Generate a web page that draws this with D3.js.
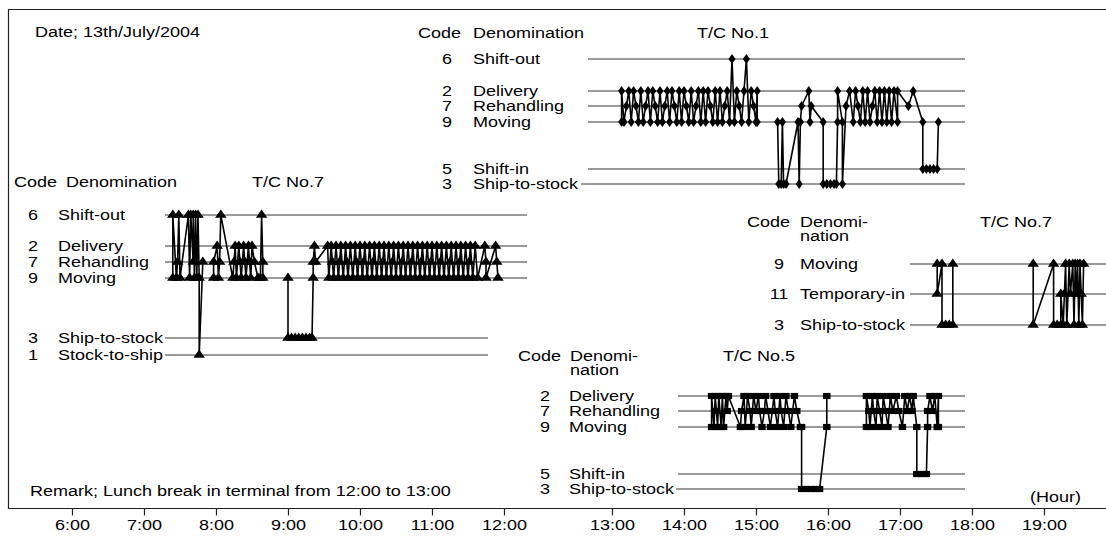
<!DOCTYPE html>
<html><head><meta charset="utf-8">
<script src="https://cdn.jsdelivr.net/npm/d3@7"></script>
<style>
body{margin:0;background:#fff}
svg{display:block}
text{font-family:"Liberation Sans",Arial,Helvetica,sans-serif;font-size:15px;fill:#000}
</style>
</head><body>
<svg id="chart" width="1106" height="542"></svg>
<script>
// ---------------- DATA ----------------
const hourTicks = ["6:00","7:00","8:00","9:00","10:00","11:00","12:00","13:00","14:00","15:00","16:00","17:00","18:00","19:00"];
const dateText = "Date; 13th/July/2004";
const remarkText = "Remark; Lunch break in terminal from 12:00 to 13:00";

// T/C No.1
const tc1Codes = [6, 2, 7, 9, 5, 3];
const tc1Names = ["Shift-out", "Delivery", "Rehandling", "Moving", "Shift-in", "Ship-to-stock"];
const tc1Ops = [
 ["13:08",9],["13:08",2],["13:10",9],["13:12",7],["13:14",2],["13:16",9],["13:18",2],["13:20",7],["13:22",9],["13:24",2],["13:26",9],["13:28",7],["13:30",2],["13:32",9],["13:34",2],["13:36",7],["13:38",9],["13:40",2],["13:42",9],["13:44",7],["13:46",2],["13:48",9],["13:50",2],["13:52",7],["13:54",9],["13:56",2],["13:58",9],["14:00",2],["14:02",7],["14:04",9],["14:06",2],["14:08",9],["14:10",7],["14:12",2],["14:14",9],["14:16",2],["14:18",9],["14:20",2],["14:22",7],["14:24",9],["14:26",2],["14:28",9],["14:30",2],["14:32",9],["14:34",7],["14:36",2],["14:38",9],["14:40",6],["14:42",9],["14:44",2],["14:46",7],["14:48",9],["14:50",2],["14:52",6],["14:54",9],["14:56",2],["14:58",7],["15:00",9],["15:01",2],["15:01",9],
 null,
 ["15:18",9],["15:19",3],["15:21",3],["15:22",9],["15:23",3],["15:25",3],["15:35",9],["15:36",3],["15:37",9],["15:38",7],["15:44",2],["15:45",9],["15:46",7],["15:56",9],["15:56",3],["15:59",3],["16:02",3],["16:05",3],["16:07",3],["16:08",9],["16:08",2],["16:12",9],["16:12",3],["16:15",7],["16:18",2],["16:21",9],["16:23",2],["16:25",7],["16:27",9],["16:29",2],["16:31",9],["16:33",2],["16:35",9],["16:37",7],["16:39",2],["16:41",9],["16:43",2],["16:45",9],["16:47",2],["16:49",9],["16:51",2],["16:53",9],["16:55",2],["16:58",9],["16:58",2],["17:07",7],["17:11",2],["17:19",9],["17:19",5],["17:22",5],["17:25",5],["17:28",5],["17:31",5],["17:32",9]
];

// T/C No.7 (morning)
const tc7aCodes = [6, 2, 7, 9, 3, 1];
const tc7aNames = ["Shift-out", "Delivery", "Rehandling", "Moving", "Ship-to-stock", "Stock-to-ship"];
const tc7aOps = [
 ["7:24",9],["7:24",6],["7:27",9],["7:28",7],["7:29",6],["7:30",9],["7:37",6],["7:38",9],["7:39",6],["7:41",7],["7:41",6],["7:42",9],["7:43",6],["7:44",9],["7:45",6],["7:46",9],["7:46",1],["7:49",7],
 null,
 ["7:58",9],["7:58",7],["8:01",2],["8:02",9],["8:03",7],["8:04",6],["8:14",9],["8:15",7],["8:16",2],["8:17",9],["8:19",2],["8:20",7],["8:21",9],["8:23",2],["8:24",7],["8:25",9],["8:27",2],["8:28",7],["8:29",9],["8:30",2],["8:32",7],["8:35",9],["8:37",9],["8:38",6],["8:39",7],["8:39",9],
 null,
 ["9:00",9],["9:00",3],["9:03",3],["9:06",3],["9:09",3],["9:12",3],["9:15",3],["9:18",3],["9:20",3],["9:21",9],["9:21",7],["9:22",2],["9:23",7],["9:33",2],
 ["9:34",9],["9:36",2],["9:37",7],["9:38",9],["9:40",2],["9:42",9],["9:43",7],["9:44",2],["9:46",9],["9:48",2],["9:49",7],["9:50",9],["9:52",2],["9:54",9],["9:56",2],["9:57",7],["9:58",9],["10:00",2],["10:02",9],["10:03",7],["10:04",2],["10:06",9],["10:08",2],["10:10",9],["10:11",7],["10:12",2],["10:14",9],["10:16",2],["10:18",9],["10:19",7],["10:20",2],["10:22",9],["10:24",2],["10:26",9],["10:27",7],["10:28",2],["10:30",9],["10:32",2],["10:34",9],["10:35",7],["10:36",2],["10:38",9],["10:40",2],["10:42",9],["10:43",7],["10:44",2],["10:46",9],["10:48",2],["10:50",9],["10:51",7],["10:52",2],["10:54",9],["10:56",2],["10:58",9],["10:59",7],["11:00",2],["11:02",9],["11:04",2],["11:06",9],["11:07",7],["11:08",2],["11:10",9],["11:12",2],["11:14",9],["11:15",7],["11:16",2],["11:18",9],["11:20",2],["11:22",9],["11:23",7],["11:24",2],["11:26",9],["11:28",2],["11:30",9],["11:31",7],["11:32",2],["11:34",9],["11:36",2],["11:38",9],["11:44",2],["11:45",7],["11:45",9],["11:53",2],["11:54",7],["11:55",9]
];

// T/C No.7 (evening)
const tc7bCodes = [9, 11, 3];
const tc7bNames = ["Moving", "Temporary-in", "Ship-to-stock"];
const tc7bOps = [
 ["17:31",9],["17:31",11],["17:35",9],["17:35",3],["17:38",3],["17:41",3],["17:44",3],["17:44",9],
 null,
 ["18:51",9],["18:51",3],["19:08",9],["19:08",3],["19:11",3],["19:14",3],["19:14",11],["19:16",3],["19:17",11],["19:18",9],["19:19",3],["19:21",9],["19:22",11],["19:24",9],["19:25",3],["19:26",9],["19:27",11],["19:28",9],["19:29",3],["19:30",9],["19:31",11],["19:32",3],["19:33",9]
];

// T/C No.5
const tc5Codes = [2, 7, 9, 5, 3];
const tc5Names = ["Delivery", "Rehandling", "Moving", "Shift-in", "Ship-to-stock"];
const tc5Ops = [
 ["14:23",9],["14:23",2],["14:25",9],["14:26",2],["14:27",7],["14:28",9],["14:29",2],["14:31",9],["14:32",2],["14:33",9],["14:35",2],["14:36",7],["14:37",2],["14:47",9],["14:48",7],["14:50",2],["14:51",9],["14:53",2],["14:55",7],["14:56",9],["14:58",2],["15:00",7],["15:02",2],["15:03",7],["15:05",9],["15:07",7],["15:08",2],["15:10",7],["15:12",9],["15:15",2],["15:16",7],["15:18",9],["15:20",2],["15:21",7],["15:23",9],["15:25",2],["15:27",7],["15:29",9],["15:32",2],["15:34",7],["15:37",9],["15:38",9],["15:38",3],["15:42",3],["15:46",3],["15:50",3],["15:53",3],["15:59",9],["15:59",2],
 null,
 ["16:32",9],["16:32",2],["16:34",7],["16:35",9],["16:37",2],["16:38",7],["16:40",9],["16:41",2],["16:43",7],["16:45",9],["16:46",2],["16:48",7],["16:50",9],["16:52",2],["16:54",7],["16:57",2],["16:59",7],["17:02",9],["17:04",2],["17:06",7],["17:08",2],["17:10",7],["17:11",2],["17:14",9],["17:14",5],["17:17",5],["17:20",5],["17:22",5],["17:23",9],["17:23",7],["17:25",2],["17:27",7],["17:29",2],["17:31",9],["17:32",2],["17:32",9]
];

// ---------------- LAYOUT ----------------
const svg = d3.select("#chart");
const toHours = s => { const [h, m] = s.split(":").map(Number); return h + m / 60; };

// time axis (lunch hour drawn wider)
const x = d3.scaleLinear().domain([6, 12, 13, 19]).range([72, 504, 612, 1044]);
const SX = 1.2; // horizontal stretch of glyphs

function txt(g, px, py, s, anchor) {
  g.append("text")
    .attr("transform", `translate(${px},${py}) scale(${SX},1)`)
    .attr("text-anchor", anchor || "start")
    .text(s);
}

// frame
svg.append("path").attr("d", `M1106,9.5H8.5V508.5H1106`)
  .attr("stroke", "#222").attr("stroke-width", 1.2).attr("fill", "none");

txt(svg, 35, 37, dateText);
txt(svg, 30, 496, remarkText);
txt(svg, 1030, 502, "(Hour)");

// axis
const axis = d3.axisBottom(x)
  .tickValues(hourTicks.map(toHours))
  .tickFormat((d, i) => hourTicks[i])
  .tickSize(7).tickPadding(4);
const ag = svg.append("g").attr("transform", "translate(0,508.5)").call(axis);
ag.select(".domain").remove();
ag.selectAll(".tick line").attr("stroke", "#222").attr("stroke-width", 1.2);
ag.selectAll(".tick text")
  .attr("font-family", null).attr("font-size", null)
  .attr("transform", `scale(${SX},1)`)
  .attr("x", 0);

const panels = [
  { codes: tc1Codes, names: tc1Names, ops: tc1Ops, title: "T/C No.1", symbol: d3.symbolDiamond, size: 30,
    ys: [59, 91, 106, 122, 169, 184], codeX: 447, nameX: 473,
    lineStart: [588, 588, 588, 588, 588, 581], lineEnd: [965, 965, 965, 965, 965, 965],
    head: { codeX: 418, denX: 473, y: 38, titleX: 697, den2: null } },
  { codes: tc7aCodes, names: tc7aNames, ops: tc7aOps, title: "T/C No.7", symbol: d3.symbolTriangle, size: 40,
    ys: [215, 246, 262, 278, 338, 355], codeX: 33, nameX: 58,
    lineStart: [165, 165, 165, 165, 165, 165], lineEnd: [527, 527, 527, 527, 488, 488],
    head: { codeX: 14, denX: 66, y: 187, titleX: 252, den2: null } },
  { codes: tc7bCodes, names: tc7bNames, ops: tc7bOps, title: "T/C No.7", symbol: d3.symbolTriangle, size: 40,
    ys: [264, 294, 325], codeX: 779, nameX: 800,
    lineStart: [910, 910, 910], lineEnd: [1106, 1106, 1106],
    head: { codeX: 747, denX: 800, y: 227, titleX: 980, den2: 241 } },
  { codes: tc5Codes, names: tc5Names, ops: tc5Ops, title: "T/C No.5", symbol: d3.symbolSquare, size: 38,
    ys: [396, 411, 427, 474, 489], codeX: 545, nameX: 569,
    lineStart: [678, 678, 678, 678, 676], lineEnd: [965, 965, 965, 965, 965],
    head: { codeX: 518, denX: 570, y: 361, titleX: 723, den2: 375 } }
];

panels.forEach(p => {
  const g = svg.append("g");
  const y = d3.scaleOrdinal().domain(p.codes).range(p.ys);
  const hd = p.head;
  txt(g, hd.codeX, hd.y, "Code");
  if (hd.den2 === null) {
    txt(g, hd.denX, hd.y, "Denomination");
  } else {
    txt(g, hd.denX, hd.y, "Denomi-");
    txt(g, hd.denX, hd.den2, "nation");
  }
  txt(g, hd.titleX, hd.y, p.title);

  p.codes.forEach((c, i) => {
    txt(g, p.codeX, p.ys[i] + 5, String(c), "middle");
    txt(g, p.nameX, p.ys[i] + 5, p.names[i]);
  });

  g.append("g").attr("stroke", "#9a9a9a").attr("stroke-width", 2)
    .selectAll("line").data(p.codes).join("line")
    .attr("x1", (c, i) => p.lineStart[i]).attr("x2", (c, i) => p.lineEnd[i])
    .attr("y1", c => y(c)).attr("y2", c => y(c));

  const line = d3.line().defined(d => d !== null)
    .x(d => x(toHours(d[0]))).y(d => y(d[1]));
  g.append("path").datum(p.ops).attr("d", line)
    .attr("fill", "none").attr("stroke", "#000").attr("stroke-width", 1.6)
    .attr("stroke-linejoin", "round");

  const sym = d3.symbol().type(p.symbol).size(p.size);
  g.append("g").selectAll("path").data(p.ops.filter(d => d !== null)).join("path")
    .attr("d", sym)
    .attr("transform", d => `translate(${x(toHours(d[0]))},${y(d[1])}) scale(${SX},1)`)
    .attr("fill", "#000");
});
</script>
</body></html>
